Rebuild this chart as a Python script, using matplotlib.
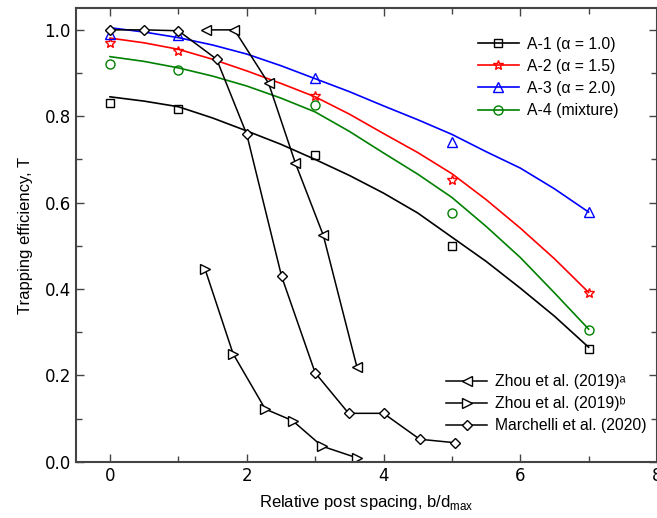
"""
Trapping efficiency vs relative post spacing: model fits (A-1..A-4)
against literature data (Zhou 2019a/b, Marchelli 2020).
"""
import matplotlib
matplotlib.use("Agg")
import matplotlib.pyplot as plt
from matplotlib.ticker import MultipleLocator

# measured points, b/d_max
x_meas = [0, 1, 3, 5, 7]
a1_meas = [0.83, 0.817, 0.71, 0.50, 0.26]
a2_meas = [0.97, 0.952, 0.848, 0.652, 0.39]
a3_meas = [0.99, 0.987, 0.888, 0.74, 0.578]
a4_meas = [0.92, 0.908, 0.825, 0.575, 0.305]

# fitted curves, every 0.5
x_fit = [0, 0.5, 1, 1.5, 2, 2.5, 3, 3.5, 4, 4.5, 5, 5.5, 6, 6.5, 7]
a1_fit = [0.845, 0.835, 0.822, 0.796, 0.766, 0.735, 0.700, 0.663,
          0.622, 0.576, 0.520, 0.464, 0.402, 0.337, 0.265]
a2_fit = [0.981, 0.970, 0.955, 0.932, 0.905, 0.876, 0.845, 0.805,
          0.760, 0.716, 0.667, 0.607, 0.541, 0.470, 0.392]
a3_fit = [1.005, 0.995, 0.982, 0.965, 0.944, 0.917, 0.887, 0.857,
          0.824, 0.792, 0.758, 0.718, 0.680, 0.632, 0.578]
a4_fit = [0.938, 0.927, 0.912, 0.893, 0.870, 0.842, 0.810, 0.765,
          0.715, 0.666, 0.612, 0.545, 0.473, 0.391, 0.307]

# literature
zhou_a_x = [1.41, 1.82, 2.32, 2.71, 3.12, 3.61]
zhou_a_y = [1.0, 1.0, 0.876, 0.692, 0.524, 0.22]
zhou_b_x = [1.39, 1.80, 2.27, 2.67, 3.10, 3.61]
zhou_b_y = [0.446, 0.25, 0.122, 0.095, 0.036, 0.009]
march_x = [0, 0.5, 1.0, 1.56, 2.0, 2.51, 3.0, 3.49, 4.0, 4.53, 5.04]
march_y = [1.0, 1.0, 0.998, 0.932, 0.758, 0.429, 0.206, 0.112, 0.112, 0.052, 0.044]

plt.rcParams["font.family"] = ["DejaVu Sans"]
plt.rcParams["mathtext.fontset"] = "custom"
plt.rcParams["mathtext.rm"] = "Liberation Sans"

fig = plt.figure(figsize=(6.57, 5.18), dpi=100)
ax = fig.add_axes([0.1154, 0.1087, 0.8846, 0.8753])

series = [
    ("A-1 (\u03b1 = 1.0)", a1_meas, a1_fit, "black", "s", 5.8),
    ("A-2 (\u03b1 = 1.5)", a2_meas, a2_fit, "red", "*", 7),
    ("A-3 (\u03b1 = 2.0)", a3_meas, a3_fit, "blue", "^", 6.5),
    ("A-4 (mixture)", a4_meas, a4_fit, "green", "o", 6.5),
]
handles1 = []
for label, ym, yf, c, m, ms in series:
    ax.plot(x_fit, yf, "-", color=c, lw=1.2)
    ax.plot(x_meas, ym, m, color=c, ms=ms, mfc="none", mew=1.0)
    h, = ax.plot([], [], "-", marker=m, color=c, ms=ms, mfc="none", mew=1.0, lw=1.2)
    handles1.append((h, label))

kw = dict(color="black", lw=1.1, mfc="white", mew=1.0)
h_za, = ax.plot(zhou_a_x, zhou_a_y, marker="<", ms=6.5, **kw)
h_zb, = ax.plot(zhou_b_x, zhou_b_y, marker=">", ms=6.5, **kw)
h_m, = ax.plot(march_x, march_y, marker="D", ms=5.5, **kw)

ax.set_xlim(-0.5, 8)
ax.set_ylim(0, 1.05)
ax.xaxis.set_major_locator(MultipleLocator(2))
ax.xaxis.set_minor_locator(MultipleLocator(1))
ax.yaxis.set_major_locator(MultipleLocator(0.2))
ax.yaxis.set_minor_locator(MultipleLocator(0.1))
ax.tick_params(which="both", direction="in", top=True, right=True,
               labelsize=12, color="#444444")
ax.tick_params(which="major", length=6, width=1.0)
ax.tick_params(which="minor", length=4, width=1.0)
for s in ax.spines.values():
    s.set_linewidth(1.5)
    s.set_color("#444444")

ax.set_xlabel(r"Relative post spacing, b/d$_{\rm max}$", fontsize=12,
              family="Liberation Sans", labelpad=6)
ax.set_ylabel("Trapping efficiency, T", fontsize=12,
              family="Liberation Sans", labelpad=8)

leg_font = {"family": ["Liberation Sans", "DejaVu Sans"], "size": 11.3}
leg1 = ax.legend([h for h, _ in handles1], [l for _, l in handles1],
                 loc="upper left", bbox_to_anchor=(0.718, 0.941),
                 bbox_transform=fig.transFigure, frameon=False, prop=leg_font,
                 handlelength=2.6, handletextpad=0.5, labelspacing=0.45,
                 borderaxespad=0)
ax.add_artist(leg1)
ax.legend([h_za, h_zb, h_m],
          ["Zhou et al. (2019)\u1d43", "Zhou et al. (2019)\u1d47",
           "Marchelli et al. (2020)"],
          loc="upper left", bbox_to_anchor=(0.67, 0.29),
          bbox_transform=fig.transFigure, frameon=False, prop=leg_font,
          handlelength=2.6, handletextpad=0.5, labelspacing=0.45,
          borderaxespad=0)

fig.savefig("out.png", dpi=100)
